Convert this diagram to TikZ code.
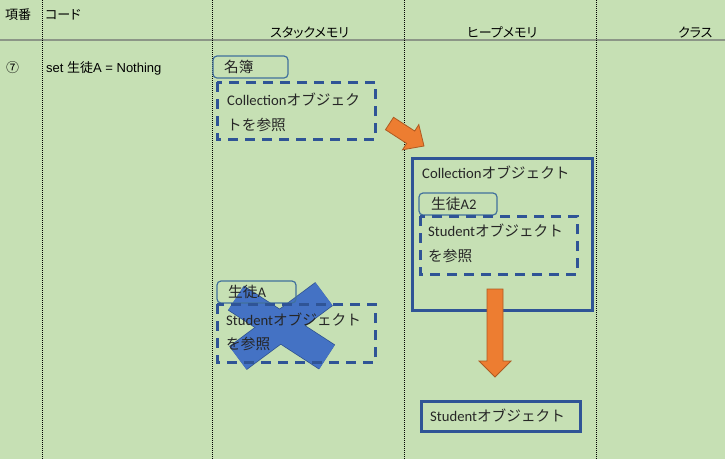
\documentclass[tikz,border=0pt]{standalone}
\usepackage{fontspec}
\setmainfont{Carlito}
\newfontfamily\jp{Noto Sans CJK JP}
\newfontfamily\jph[RawFeature=+palt]{Noto Sans CJK JP}
\newfontfamily\ar{Liberation Sans}
\definecolor{bg}{RGB}{198,224,180}
\definecolor{boxblue}{HTML}{2F5496}
\definecolor{rndblue}{HTML}{41719C}
\definecolor{xblue}{HTML}{4472C4}
\definecolor{xborder}{HTML}{2F528F}
\definecolor{orng}{HTML}{ED7D31}
\definecolor{orngb}{HTML}{AE5A21}
\definecolor{gridgray}{RGB}{140,150,135}
\tikzset{
  hdr/.style={inner sep=0pt, anchor=base west, font=\fontsize{13}{15}\selectfont},
  txt/.style={inner sep=0pt, anchor=base west, font=\fontsize{14.67}{18}\selectfont, text=black!85},
  dashbox/.style={draw=boxblue, line width=3pt, dash pattern=on 10pt off 7pt},
  solidbox/.style={draw=boxblue, line width=3pt},
  rndbox/.style={draw=rndblue, line width=1.2pt, rounded corners=4pt},
  colline/.style={draw=black, line width=0.8pt, dash pattern=on 1pt off 1pt},
  blockarrow/.style={fill=orng, draw=orngb, line width=0.8pt},
}
\begin{document}
\begin{tikzpicture}[x=1pt,y=-1pt]
\useasboundingbox (0,0) rectangle (725,459);
\fill[bg] (0,0) rectangle (725,459);
% grid
\coordinate (hl0) at (0,40); \coordinate (hl1) at (725,40);
\draw[gridgray, line width=1.3pt] (hl0) -- (hl1);
\foreach \xx/\nm in {42/a,212/b,404/c,596/d}{
  \coordinate (top\nm) at (\xx,0); \coordinate (bot\nm) at (\xx,459);
  \draw[colline] (top\nm) -- (bot\nm);
}
% headers
\node[hdr] (h1) at (5,19) {\jph 項番};
\node[hdr] (h2) at (45,19) {\jph コード};
\node[hdr] (h3) at (270,37) {\jph スタックメモリ};
\node[hdr] (h4) at (467,37) {\jph ヒープメモリ};
\node[hdr] (h5) at (678,37) {\jph クラス};
\node[hdr] (no) at (6,72) {\jph ⑦};
\node[hdr] (code) at (46,72) {\ar set {\jph 生徒}A = Nothing};
% blue X (behind texts)
\coordinate (xa1) at (236,298); \coordinate (xa2) at (327,357);
\coordinate (xb1) at (238,358); \coordinate (xb2) at (324,294);
\draw[xborder, line width=29.5pt] (xa1) -- (xa2);
\draw[xborder, line width=29.5pt] (xb1) -- (xb2);
\draw[xblue, line width=28pt] (xa1) -- (xa2);
\draw[xblue, line width=28pt] (xb1) -- (xb2);
% stack: meibo
\draw[rndbox] (213,56) rectangle (288,78);
\node[txt] (meibo) at (224,72) {\jp 名簿};
\draw[dashbox] (217,82) rectangle (375,139);
\node[txt] (c1) at (227,105) {Collection{\jp オブジェク}};
\node[txt] (c2) at (227,130) {\jp トを参照};
% stack: seitoA
\draw[rndbox] (217,281) rectangle (296,303);
\node[txt] (sA) at (228,297) {{\jp 生徒}A};
\draw[dashbox] (217,304) rectangle (375,362);
\node[txt] (s1) at (226,325) {Student{\jp オブジェクト}};
\node[txt] (s2) at (226,349) {\jp を参照};
% heap: collection object
\draw[solidbox] (412,158) rectangle (592,310);
\node[txt] (co) at (422,178) {Collection{\jp オブジェクト}};
\draw[rndbox] (419,193) rectangle (497,215);
\node[txt] (sA2) at (431,209) {{\jp 生徒}A2};
\draw[dashbox] (420,216) rectangle (577,274);
\node[txt] (t1) at (428,236) {Student{\jp オブジェクト}};
\node[txt] (t2) at (428,261) {\jp を参照};
% heap: student object
\draw[solidbox] (421,401) rectangle (580,431);
\node[txt] (so) at (430,421) {Student{\jp オブジェクト}};
% orange arrows
\draw[blockarrow] (385.5,129.7) -- (393.5,117.3) -- (414.7,131.0) -- (418.8,124.6) -- (424,146) -- (402.5,149.8) -- (406.6,143.4) -- cycle;
\draw[blockarrow] (487,289) -- (503,289) -- (503,361) -- (511,361) -- (495,377) -- (479,361) -- (487,361) -- cycle;
\end{tikzpicture}
\end{document}
